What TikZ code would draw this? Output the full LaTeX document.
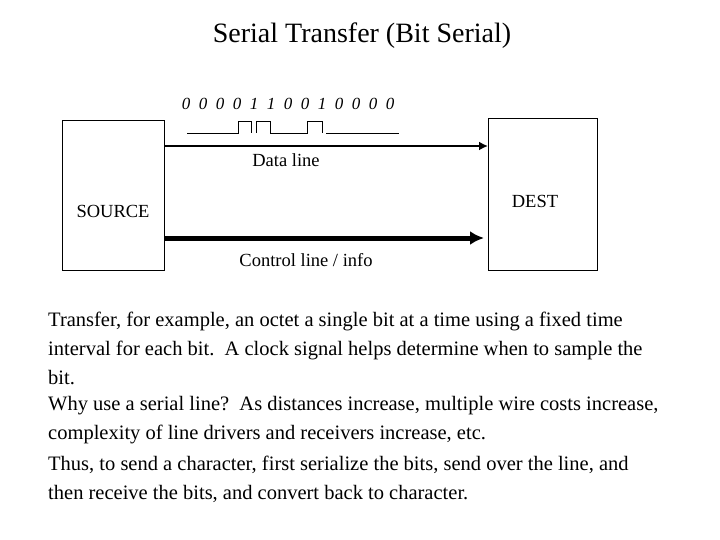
\documentclass[tikz,border=0pt]{standalone}
\usepackage{fontspec}
\setmainfont{Liberation Serif}
\usetikzlibrary{arrows.meta}
\begin{document}
\begin{tikzpicture}[x=1pt,y=-1pt,
  box/.style={draw,line width=0.8pt,anchor=north west,inner sep=0},
  txt/.style={font=\fontsize{18.5}{22}\selectfont},
  para/.style={anchor=north west,align=left,inner sep=0,font=\fontsize{20.5}{29}\selectfont}]
\useasboundingbox (0,0) rectangle (720,540);
\node[box,minimum width=102,minimum height=150] (src) at (62,120) {};
\node[box,minimum width=109,minimum height=152] (dst) at (488,118) {};
\node[font=\fontsize{28}{30}\selectfont] (title) at (362,36) {Serial Transfer (Bit Serial)};
\foreach \b [count=\i from 0] in {0,0,0,0,1,1,0,0,1,0,0,0,0}
  \node[font=\fontsize{17}{20}\selectfont\itshape,inner sep=0] (b\i) at (186+\i*17,104) {\b};
\draw[line width=0.6pt] (187,133) -- (238,133) -- (238,121) -- (251,121) -- (251,133)
  (256,133) -- (256,121) -- (270,121) -- (270,133) -- (307,133) -- (307,121) -- (322,121) -- (322,133)
  (326,133) -- (399,133);
\coordinate (d1) at (src.north east |- 0,146);
\coordinate (d2) at (dst.north west |- 0,146);
\draw[line width=2.5pt,-{Latex[length=9pt,width=9pt]}] (d1) -- (d2);
\coordinate (c1) at (src.north east |- 0,238);
\coordinate (c2) at (484,238);
\draw[line width=5pt,-{Latex[length=14pt,width=14pt]}] (c1) -- (c2);
\node[txt] (dl) at (286,160) {Data line};
\node[txt] (cl) at (306,260) {Control line / info};
\node[txt] (s) at (113,211) {SOURCE};
\node[txt] (d) at (535,201) {DEST};
\node[para] (p1) at (48,312)
{Transfer, for example, an octet a single bit at a time using a fixed time\\interval for each bit.\ \ A clock signal helps determine when to sample the\\bit.};
\node[para] (p2) at (48,396)
{Why use a serial line?\ \ As distances increase, multiple wire costs increase,\\complexity of line drivers and receivers increase, etc.};
\node[para] (p3) at (48,456)
{Thus, to send a character, first serialize the bits, send over the line, and\\then receive the bits, and convert back to character.};
\end{tikzpicture}
\end{document}
